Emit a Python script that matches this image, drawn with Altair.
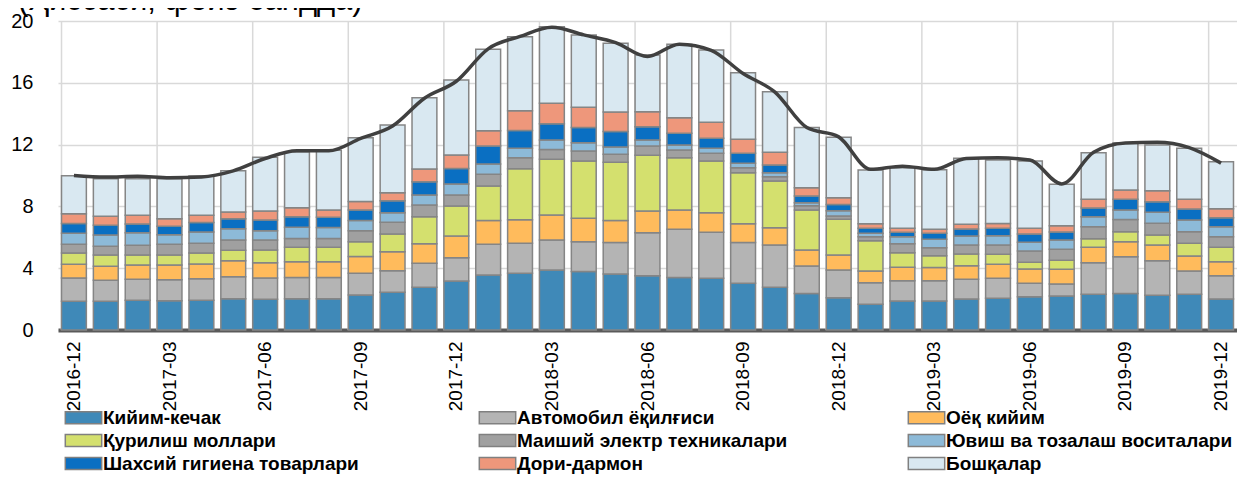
import altair as alt
import pandas as pd

months = [
    "2016-12", "2017-01", "2017-02", "2017-03", "2017-04", "2017-05", "2017-06",
    "2017-07", "2017-08", "2017-09", "2017-10", "2017-11", "2017-12",
    "2018-01", "2018-02", "2018-03", "2018-04", "2018-05", "2018-06",
    "2018-07", "2018-08", "2018-09", "2018-10", "2018-11", "2018-12",
    "2019-01", "2019-02", "2019-03", "2019-04", "2019-05", "2019-06",
    "2019-07", "2019-08", "2019-09", "2019-10", "2019-11", "2019-12",
]
tick_months = ["2016-12", "2017-03", "2017-06", "2017-09", "2017-12", "2018-03", "2018-06",
               "2018-09", "2018-12", "2019-03", "2019-06", "2019-09", "2019-12"]

series = [
    "Кийим-кечак", "Автомобил ёқилғиси", "Оёқ кийим",
    "Қурилиш моллари", "Маиший электр техникалари", "Ювиш ва тозалаш воситалари",
    "Шахсий гигиена товарлари", "Дори-дармон", "Бошқалар",
]
colors = ["#3F89B8", "#B4B4B4", "#FFBB5C", "#D4E06E", "#A0A0A0",
          "#8DBAD8", "#0A6FC2", "#EE977B", "#D9E8F1"]

kiyim = [1.86, 1.86, 1.92, 1.90, 1.92, 2.03, 1.99, 2.03, 2.03, 2.27, 2.44, 2.76, 3.17,
         3.56, 3.67, 3.88, 3.78, 3.62, 3.51, 3.39, 3.35, 3.02, 2.76, 2.37, 2.09,
         1.66, 1.88, 1.88, 2.01, 2.05, 2.16, 2.20, 2.31, 2.37, 2.25, 2.31, 2.01]
avto = [1.51, 1.36, 1.36, 1.36, 1.40, 1.42, 1.38, 1.36, 1.36, 1.40, 1.40, 1.56, 1.51,
        1.99, 1.94, 1.95, 1.94, 2.05, 2.79, 3.13, 2.97, 2.65, 2.74, 1.77, 1.79,
        1.40, 1.31, 1.31, 1.27, 1.30, 0.86, 0.78, 2.05, 2.37, 2.24, 1.51, 1.50]
oyoq = [0.88, 0.90, 0.93, 0.95, 0.95, 1.04, 0.99, 1.03, 1.03, 1.08, 1.23, 1.27, 1.40,
        1.53, 1.53, 1.61, 1.51, 1.41, 1.40, 1.25, 1.27, 1.21, 1.12, 1.04, 0.97,
        0.76, 0.87, 0.85, 0.88, 0.90, 0.93, 0.95, 0.99, 0.98, 1.01, 0.97, 0.91]
qurilish = [0.73, 0.73, 0.64, 0.64, 0.71, 0.67, 0.82, 0.93, 0.93, 0.97, 1.14, 1.74, 1.95,
            2.24, 3.30, 3.61, 3.71, 3.77, 3.61, 3.38, 3.35, 3.30, 3.02, 2.59, 2.32,
            1.96, 0.94, 0.77, 0.76, 0.65, 0.43, 0.58, 0.56, 0.64, 0.65, 0.82, 0.93]
maishiy = [0.57, 0.57, 0.63, 0.70, 0.63, 0.67, 0.65, 0.58, 0.58, 0.71, 0.76, 0.76, 0.71,
           0.76, 0.71, 0.64, 0.65, 0.52, 0.60, 0.50, 0.50, 0.32, 0.28, 0.28, 0.21,
           0.26, 0.59, 0.52, 0.58, 0.60, 0.73, 0.71, 0.78, 0.80, 0.76, 0.75, 0.69]
yuvish = [0.71, 0.73, 0.82, 0.62, 0.73, 0.73, 0.60, 0.72, 0.70, 0.65, 0.62, 0.65, 0.71,
          0.66, 0.61, 0.61, 0.53, 0.47, 0.39, 0.32, 0.32, 0.29, 0.26, 0.19, 0.34,
          0.22, 0.45, 0.54, 0.58, 0.60, 0.57, 0.61, 0.64, 0.61, 0.71, 0.76, 0.65]
shaxsiy = [0.64, 0.63, 0.56, 0.54, 0.61, 0.64, 0.69, 0.68, 0.66, 0.69, 0.78, 0.86, 1.01,
           1.17, 1.16, 1.05, 0.98, 1.00, 0.86, 0.76, 0.65, 0.65, 0.50, 0.43, 0.41,
           0.32, 0.28, 0.39, 0.46, 0.48, 0.53, 0.51, 0.57, 0.69, 0.68, 0.71, 0.58]
dori = [0.63, 0.58, 0.56, 0.49, 0.47, 0.44, 0.58, 0.59, 0.48, 0.54, 0.52, 0.82, 0.87,
        0.99, 1.27, 1.32, 1.31, 1.27, 0.97, 1.01, 1.03, 0.90, 0.82, 0.54, 0.43,
        0.30, 0.26, 0.26, 0.30, 0.32, 0.37, 0.41, 0.56, 0.60, 0.72, 0.63, 0.58]
boshqa = [2.46, 2.43, 2.37, 2.59, 2.55, 2.67, 3.48, 3.62, 3.86, 4.14, 4.38, 4.62, 4.85,
          5.27, 4.79, 4.96, 4.68, 4.45, 3.67, 4.75, 4.68, 4.31, 3.92, 3.89, 3.91,
          3.48, 3.92, 3.86, 4.27, 4.10, 4.36, 2.68, 3.02, 3.06, 2.95, 3.30, 3.04]
total = [10.0, 9.9, 9.95, 9.85, 9.9, 10.3, 11.1, 11.6, 11.6, 12.4, 13.2, 15.0, 16.1,
         18.2, 19.0, 19.6, 19.1, 18.6, 17.7, 18.5, 18.1, 16.6, 15.4, 13.1, 12.5,
         10.4, 10.6, 10.4, 11.1, 11.15, 11.0, 9.45, 11.5, 12.1, 12.15, 11.8, 10.8]

title_text = "(Ҳиссаси, фоиз бандда)"

all_vals = [kiyim, avto, oyoq, qurilish, maishiy, yuvish, shaxsiy, dori, boshqa]
rows = []
for si, (name, vals) in enumerate(zip(series, all_vals)):
    for m, v in zip(months, vals):
        rows.append({"month": m, "series": name, "value": v, "ord": si})
bars_df = pd.DataFrame(rows)
line_df = pd.DataFrame({"month": months, "total": total})
grid_df = pd.DataFrame({"month": tick_months})
title_df = pd.DataFrame({"t": [title_text]})

# legend fills column by column; reorder so rows read like the reference
legend_idx = [0, 3, 6, 1, 4, 7, 2, 5, 8]
legend_domain = [series[i] for i in legend_idx]
legend_range = [colors[i] for i in legend_idx]

FONT = "Liberation Sans"
x_scale = alt.Scale(paddingInner=0.22, paddingOuter=0.11)
y_scale = alt.Scale(domain=[0, 20], nice=False, zero=True)

x_axis = alt.Axis(
    values=tick_months, labelAngle=270, labelFont=FONT, labelFontSize=19,
    labelColor="black", labelPadding=11, ticks=False, grid=False,
    domainColor="#5a5a5a", domainWidth=4, title=None,
)
y_axis = alt.Axis(
    values=[0, 4, 8, 12, 16, 20], labelFont=FONT, labelFontSize=20, labelColor="black",
    labelPadding=25, ticks=False, domain=False, grid=True, gridColor="#d9d9d9",
    gridWidth=1.5, title=None,
)

grid = alt.Chart(grid_df).mark_rule(color="#d9d9d9", strokeWidth=1.5).encode(
    x=alt.X("month:N", sort=months, scale=x_scale, bandPosition=0, axis=x_axis),
    y=alt.datum(0, scale=y_scale),
    y2=alt.datum(20),
)

bars = alt.Chart(bars_df).mark_bar(stroke="#858585", strokeWidth=1.5).encode(
    x=alt.X("month:N", sort=months, scale=x_scale, axis=x_axis),
    y=alt.Y("value:Q", stack="zero", scale=y_scale, axis=y_axis),
    color=alt.Color(
        "series:N", sort=legend_domain,
        scale=alt.Scale(domain=legend_domain, range=legend_range),
        legend=alt.Legend(
            title=None, orient="none", legendX=5, legendY=387, columns=3,
            gridAlign="each", columnPadding=117, rowPadding=3, padding=0,
            symbolType="M-2.6,-0.85H2.6V0.85H-2.6Z", symbolSize=196,
            symbolOffset=11, labelOffset=10,
            symbolStrokeColor="#808080", symbolStrokeWidth=1.5,
            labelFont=FONT, labelFontSize=19, labelFontWeight="bold",
            labelColor="black", labelLimit=0,
        ),
    ),
    order=alt.Order("ord:Q", sort="ascending"),
)

line = alt.Chart(line_df).mark_line(
    color="#404040", strokeWidth=3.5, interpolate="monotone"
).encode(
    x=alt.X("month:N", sort=months, scale=x_scale, axis=x_axis),
    y=alt.Y("total:Q", scale=y_scale, axis=y_axis),
)

title = alt.Chart(title_df).mark_text(
    font=FONT, fontSize=31, align="left", baseline="alphabetic", color="black"
).encode(text="t:N", x=alt.value(-40), y=alt.value(-11))

chart = alt.layer(grid, bars, line, title).properties(
    width=1179, height=309,
    autosize=alt.AutoSizeParams(type="none"),
    padding={"left": 50, "top": 13, "right": 0, "bottom": 144},
).configure_view(stroke=None).resolve_scale(y="shared", x="shared")

chart.save("out.html", embed_options={"renderer": "svg", "actions": False})
